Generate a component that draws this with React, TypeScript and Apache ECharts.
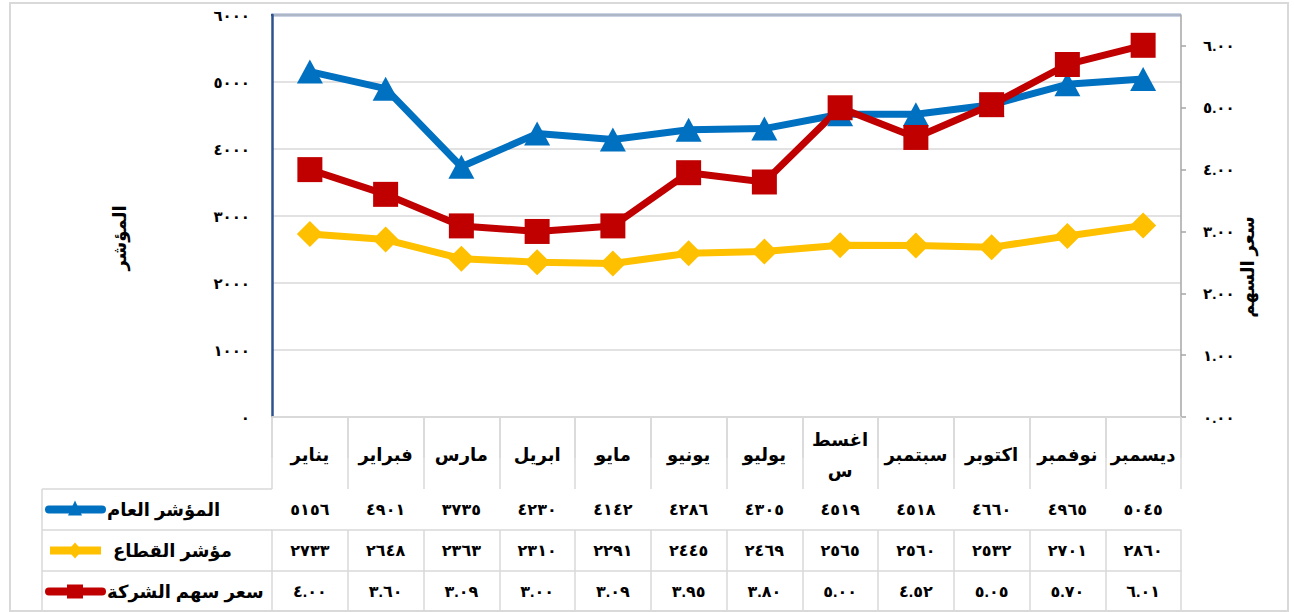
import React, { useEffect, useRef } from "react";
import * as echarts from "echarts";

// ---- data ----
const months = ["يناير", "فبراير", "مارس", "ابريل", "مايو", "يونيو", "يوليو", "اغسطس", "سبتمبر", "اكتوبر", "نوفمبر", "ديسمبر"];
const generalIndex = [5156, 4901, 3735, 4230, 4142, 4286, 4305, 4519, 4518, 4660, 4965, 5045];
const sectorIndex = [2733, 2648, 2363, 2310, 2291, 2445, 2469, 2565, 2560, 2532, 2701, 2860];
const sharePrice = [4.0, 3.6, 3.09, 3.0, 3.09, 3.95, 3.8, 5.0, 4.52, 5.05, 5.7, 6.01];
const seriesNames = ["المؤشر العام", "مؤشر القطاع", "سعر سهم الشركة"];
const leftAxisTitle = "المؤشر";
const rightAxisTitle = "سعر السهم";

const BLUE = "#0070C0";
const YELLOW = "#FFC000";
const RED = "#C00000";
const GRID = "#d9d9d9";
const NAVY = "#2F528F";
const FONT = 'Arial, "DejaVu Sans", sans-serif';

const AR_DIGITS = "٠١٢٣٤٥٦٧٨٩";
const toAr = (s: string) => s.replace(/\d/g, (d) => AR_DIGITS[Number(d)]);
const headerLabel = (m: string) => (m === "اغسطس" ? "اغسط\nس" : m);

export default function App() {
  const ref = useRef<HTMLDivElement>(null);

  useEffect(() => {
    if (!ref.current) return;
    const chart = echarts.init(ref.current, undefined, { renderer: "svg" });

    const gridLeft = 272;
    const gridRight = 113;
    const gridTop = 15;
    const gridBottom = 195;
    const H = 612;
    const plotBottom = H - gridBottom; // 417
    const headerH = 72;
    const rowH = 41;

    const rowAxis = (values: string[], offset: number) => ({
      type: "category",
      data: months,
      position: "bottom",
      offset,
      boundaryGap: true,
      axisLine: { show: true, lineStyle: { color: GRID, width: 1.5 } },
      axisTick: { show: true, interval: 0, length: rowH, lineStyle: { color: GRID, width: 1.5 } },
      axisLabel: {
        interval: 0,
        margin: rowH / 2,
        verticalAlign: "middle",
        fontSize: 16,
        fontWeight: "bold",
        color: "#000",
        fontFamily: FONT,
        formatter: (_v: string, i: number) => values[i],
      },
      splitLine: { show: false },
    });

    const rowTops = [plotBottom + headerH, plotBottom + headerH + rowH, plotBottom + headerH + 2 * rowH];
    const tableBottom = plotBottom + headerH + 3 * rowH;

    const legendGraphics: any[] = [];
    const colors = [BLUE, YELLOW, RED];
    rowTops.forEach((top, i) => {
      const cy = top + rowH / 2;
      const c = colors[i];
      if (i === 1) {
        legendGraphics.push({ type: "rect", shape: { x: 50, y: cy - 4, width: 51, height: 8 }, style: { fill: c } });
        legendGraphics.push({
          type: "polygon",
          shape: { points: [[75, cy - 8], [82, cy], [75, cy + 8], [68, cy]] },
          style: { fill: c },
        });
      } else {
        legendGraphics.push({ type: "rect", shape: { x: 45, y: cy - 4, width: 61, height: 8, r: 4 }, style: { fill: c } });
        if (i === 0) {
          legendGraphics.push({
            type: "polygon",
            shape: { points: [[68, cy + 6], [82, cy + 6], [75, cy - 9]] },
            style: { fill: c },
          });
        } else {
          legendGraphics.push({ type: "rect", shape: { x: 67, y: cy - 7, width: 16, height: 14 }, style: { fill: c } });
        }
      }
      legendGraphics.push({
        type: "text",
        x: i === 1 ? 113 : 107,
        y: cy,
        style: {
          text: seriesNames[i],
          align: "left",
          verticalAlign: "middle",
          fontSize: 18,
          fontWeight: "bold",
          fill: "#000",
          fontFamily: FONT,
        },
      });
    });

    const lineEl = (x1: number, y1: number, x2: number, y2: number, color: string, w: number) => ({
      type: "line",
      shape: { x1, y1, x2, y2 },
      style: { stroke: color, lineWidth: w },
      silent: true,
    });

    const option: any = {
      animation: false,
      backgroundColor: "#fff",
      textStyle: { fontFamily: FONT },
      grid: { left: gridLeft, right: gridRight, top: gridTop, bottom: gridBottom, containLabel: false },
      xAxis: [
        {
          type: "category",
          data: months,
          position: "bottom",
          offset: 0,
          boundaryGap: true,
          axisLine: { show: true, lineStyle: { color: GRID, width: 1.5 } },
          axisTick: { show: true, interval: 0, length: headerH, lineStyle: { color: GRID, width: 1.5 } },
          axisLabel: {
            interval: 0,
            margin: 38,
            verticalAlign: "middle",
            fontSize: 18,
            fontWeight: "bold",
            color: "#000",
            lineHeight: 31,
            fontFamily: FONT,
            formatter: (v: string) => headerLabel(v),
          },
          splitLine: { show: false },
        },
        rowAxis(generalIndex.map((v) => toAr(String(v))), headerH),
        rowAxis(sectorIndex.map((v) => toAr(String(v))), headerH + rowH),
        rowAxis(sharePrice.map((v) => toAr(v.toFixed(2))), headerH + 2 * rowH),
        {
          type: "category",
          data: months,
          position: "bottom",
          offset: headerH + 3 * rowH - 1,
          axisLine: { show: true, lineStyle: { color: GRID, width: 1.5 } },
          axisTick: { show: false },
          axisLabel: { show: false },
        },
      ],
      yAxis: [
        {
          type: "value",
          min: 0,
          max: 6000,
          interval: 1000,
          position: "left",
          axisLine: { show: true, lineStyle: { color: NAVY, width: 2.5 } },
          axisTick: { show: false },
          axisLabel: {
            margin: 22,
            fontSize: 15,
            fontWeight: "bold",
            color: "#000",
            fontFamily: FONT,
            formatter: (v: number) => toAr(String(v)),
          },
          splitLine: { show: true, lineStyle: { color: GRID, width: 1.5 } },
        },
        {
          type: "value",
          min: 0,
          max: 6.5,
          interval: 1,
          position: "right",
          axisLine: { show: true, lineStyle: { color: "#a6a6a6", width: 1.5 } },
          axisTick: { show: true, length: 5, lineStyle: { color: "#a6a6a6", width: 1.5 } },
          axisLabel: {
            margin: 22,
            fontSize: 15,
            fontWeight: "bold",
            color: "#000",
            fontFamily: FONT,
            showMaxLabel: false,
            formatter: (v: number) => (v > 6.4 ? "" : toAr(v.toFixed(2))),
          },
          splitLine: { show: false },
        },
      ],
      series: [
        {
          type: "line",
          name: seriesNames[0],
          data: generalIndex,
          yAxisIndex: 0,
          symbol: "triangle",
          symbolSize: [26, 24],
          lineStyle: { width: 7, color: BLUE, cap: "round", join: "round" },
          itemStyle: { color: BLUE },
        },
        {
          type: "line",
          name: seriesNames[1],
          data: sectorIndex,
          yAxisIndex: 0,
          symbol: "diamond",
          symbolSize: 26,
          lineStyle: { width: 7, color: YELLOW, cap: "round", join: "round" },
          itemStyle: { color: YELLOW },
        },
        {
          type: "line",
          name: seriesNames[2],
          data: sharePrice,
          yAxisIndex: 1,
          symbol: "rect",
          symbolSize: 25,
          lineStyle: { width: 7, color: RED, cap: "round", join: "round" },
          itemStyle: { color: RED },
        },
      ],
      graphic: [
        {
          type: "rect",
          shape: { x: 10, y: 3, width: 1278, height: 608 },
          style: { fill: "none", stroke: GRID, lineWidth: 2 },
          silent: true,
          z: -10,
        },
        lineEl(gridLeft - 1, gridTop, 1294 - gridRight, gridTop, NAVY, 2.5),
        ...rowTops.map((y) => lineEl(42, y, gridLeft, y, GRID, 1.5)),
        lineEl(42, tableBottom - 1, gridLeft, tableBottom - 1, GRID, 1.5),
        lineEl(42, rowTops[0], 42, tableBottom, GRID, 1.5),
        ...legendGraphics,
        {
          type: "text",
          x: 120,
          y: 238,
          rotation: Math.PI / 2,
          style: {
            text: leftAxisTitle,
            align: "center",
            verticalAlign: "middle",
            fontSize: 18,
            fontWeight: "bold",
            fill: "#000",
            fontFamily: FONT,
          },
        },
        {
          type: "text",
          x: 1248,
          y: 267,
          rotation: Math.PI / 2,
          style: {
            text: rightAxisTitle,
            align: "center",
            verticalAlign: "middle",
            fontSize: 18,
            fontWeight: "bold",
            fill: "#000",
            fontFamily: FONT,
          },
        },
      ],
    };

    chart.setOption(option);
    return () => chart.dispose();
  }, []);

  return (
    <div
      ref={ref}
      style={{ position: "absolute", left: 0, top: 0, width: 1294, height: 612 }}
    />
  );
}
